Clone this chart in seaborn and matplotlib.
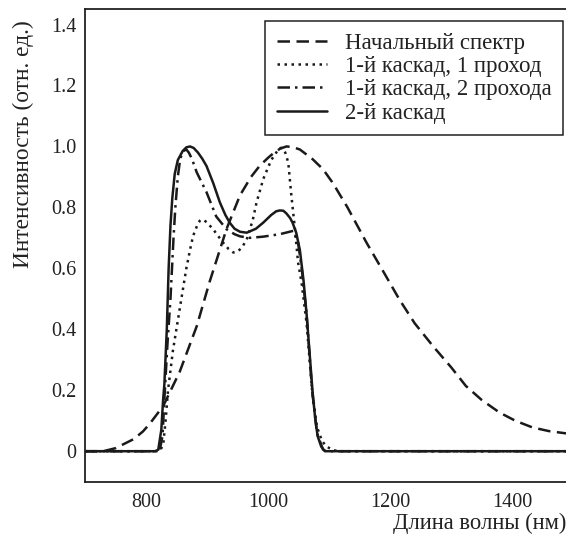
import numpy as np
import pandas as pd
import seaborn as sns
import matplotlib.pyplot as plt

sns.set_theme(style='white')
plt.rcParams['font.family'] = ['Liberation Serif', 'DejaVu Serif']

# начальный спектр
wl_init = [700, 730, 750, 768, 780, 795, 806, 828, 855, 883, 904, 932, 954, 972, 986, 1000, 1010,
           1020, 1030, 1040, 1052, 1073, 1090, 1106, 1130, 1161, 1190, 1215, 1240, 1270, 1300, 1324,
           1350, 1379, 1405, 1433, 1460, 1490]
i_init = [0, 0, 0.01, 0.028, 0.04, 0.065, 0.09, 0.148, 0.26, 0.41, 0.555, 0.73, 0.84, 0.9, 0.936, 0.963, 0.98,
          0.993, 1.0, 0.998, 0.99, 0.958, 0.925, 0.88, 0.8, 0.685, 0.585, 0.498, 0.42, 0.345, 0.275, 0.214,
          0.168, 0.127, 0.1, 0.078, 0.066, 0.058]

# 1-й каскад, 1 проход
wl_c1p1 = [700, 822, 828, 832, 836, 844, 855, 866, 872, 877, 884, 888, 891, 895, 900, 910, 926, 935,
           943, 950, 957, 965, 975, 981, 992, 1005, 1015, 1020, 1024, 1028, 1033, 1038, 1044, 1049,
           1055, 1063, 1072, 1080, 1088, 1095, 1106, 1115, 1490]
i_c1p1 = [0, 0, 0.02, 0.1, 0.2, 0.33, 0.465, 0.6, 0.66, 0.706, 0.742, 0.756, 0.76, 0.758, 0.75, 0.728, 0.685,
          0.664, 0.652, 0.655, 0.668, 0.695, 0.76, 0.816, 0.893, 0.955, 0.985, 0.995, 0.995, 0.98, 0.947,
          0.84, 0.728, 0.62, 0.55, 0.42, 0.2, 0.08, 0.035, 0.016, 0.004, 0, 0]

# 1-й каскад, 2 прохода
wl_c1p2 = [700, 818, 823, 827, 830, 835, 840, 845, 848, 852, 856, 861, 866, 870, 875, 883, 899, 915,
           932, 945, 954, 970, 992, 1019, 1041, 1049, 1055, 1063, 1072, 1080, 1090, 1095, 1490]
i_c1p2 = [0, 0, 0.01, 0.05, 0.17, 0.35, 0.5, 0.7, 0.8, 0.9, 0.96, 0.985, 0.99, 0.98, 0.96, 0.915, 0.85, 0.77,
          0.728, 0.712, 0.705, 0.70, 0.704, 0.712, 0.723, 0.685, 0.6, 0.45, 0.2, 0.06, 0.005, 0, 0]

# 2-й каскад
wl_c2 = [700, 815, 820, 825, 828, 830, 834, 837, 840, 843, 847, 852, 860, 866, 872, 878, 885, 892,
         899, 910, 921, 930, 937, 945, 954, 965, 980, 992, 1005, 1013, 1019, 1025, 1030, 1036, 1040,
         1046, 1052, 1058, 1063, 1068, 1073, 1077, 1081, 1087, 1093, 1490]
i_c2 = [0, 0, 0.005, 0.07, 0.17, 0.22, 0.4, 0.6, 0.74, 0.83, 0.91, 0.955, 0.985, 0.997, 1.0, 0.995, 0.98, 0.96,
        0.936, 0.88, 0.816, 0.775, 0.75, 0.73, 0.72, 0.717, 0.73, 0.75, 0.775, 0.787, 0.79, 0.789, 0.78,
        0.765, 0.75, 0.717, 0.66, 0.56, 0.45, 0.32, 0.19, 0.11, 0.05, 0.015, 0, 0]

labels = ['Начальный спектр', '1-й каскад, 1 проход', '1-й каскад, 2 прохода', '2-й каскад']
styles = [(0, (5, 2.6)), (0, (1, 1.8)), (0, (5, 2, 1, 2)), '-']

series = [(wl_init, i_init), (wl_c1p1, i_c1p1), (wl_c1p2, i_c1p2), (wl_c2, i_c2)]

fig = plt.figure(figsize=(5.66, 5.37), dpi=100)
ax = fig.add_axes([0.1502, 0.1030, 0.8498, 0.8797])

for (wl, inten), lab, ls in zip(series, labels, styles):
    df = pd.DataFrame({'wl': wl, 'I': inten})
    sns.lineplot(data=df, x='wl', y='I', ax=ax, color='#1a1a1a', linewidth=1.8,
                 linestyle=ls, label=lab)

ax.set_xlim(700, 1488)
ax.set_ylim(-0.1, 1.45)
ax.set_xticks([800, 1000, 1200, 1400])
ax.set_yticks([0, 0.2, 0.4, 0.6, 0.8, 1.0, 1.2, 1.4])
ax.set_yticklabels(['0', '0.2', '0.4', '0.6', '0.8', '1.0', '1.2', '1.4'])
ax.tick_params(direction='in', length=6, width=1, colors='#222222', labelsize=14.5, pad=6)
ax.tick_params(axis='x', pad=8)
for s in ['left', 'bottom', 'top']:
    ax.spines[s].set_color('#222222')
    ax.spines[s].set_linewidth(1.3)
ax.spines['right'].set_visible(False)

ax.set_xlabel('Длина волны (нм)', fontsize=16.3, loc='right', color='#222222', labelpad=1)
ax.set_ylabel('Интенсивность (отн. ед.)', fontsize=16.8, loc='top', color='#222222')
ax.yaxis.set_label_coords(-0.106, 0.977)

leg = ax.legend(loc='upper right', bbox_to_anchor=(0.994, 0.975), fontsize=16.5, frameon=True,
                fancybox=False, edgecolor='#222222', framealpha=1, handlelength=2.18,
                handletextpad=0.79, labelspacing=0.1, borderpad=0.5, borderaxespad=0)
leg.get_frame().set_linewidth(1.1)
for t in leg.get_texts():
    t.set_color('#222222')

fig.savefig('out.png', dpi=100)
